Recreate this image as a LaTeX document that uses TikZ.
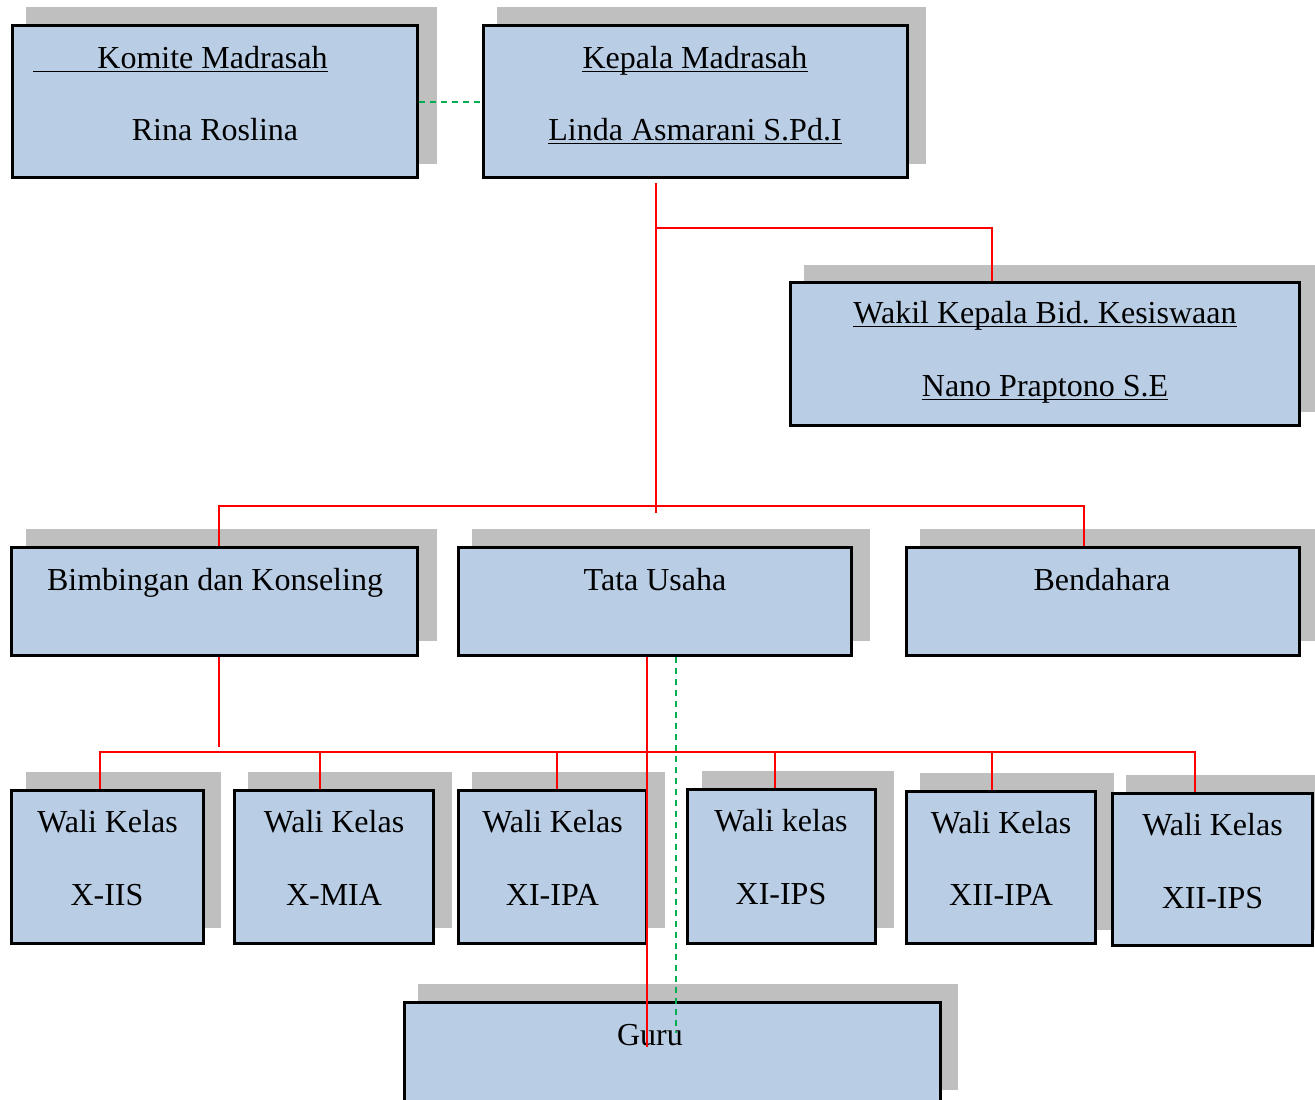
\documentclass[tikz,border=0pt]{standalone}
\usepackage{fontspec}
\setmainfont{Liberation Serif}
\frenchspacing
\definecolor{boxfill}{RGB}{185,205,229}
\definecolor{shadowgray}{RGB}{191,191,191}
\definecolor{lnred}{RGB}{255,0,0}
\definecolor{lngreen}{RGB}{0,176,80}
\newcommand\myul[1]{\draw[line width=1.6pt] ([yshift=-3.5pt]#1.base west) -- ([yshift=-3.5pt]#1.base east);}
\begin{document}
\begin{tikzpicture}[x=1pt,y=-1pt,
  orgbox/.style={draw=black, line width=3.5pt, fill=boxfill, rectangle, inner sep=0pt},
  shadowbox/.style={fill=shadowgray},
  lbl/.style={anchor=base, inner sep=0pt, font=\fontsize{32}{38}\selectfont},
  redl/.style={draw=lnred, line width=1.6pt},
  greenl/.style={draw=lngreen, line width=2pt, dash pattern=on 6pt off 5pt}]
\useasboundingbox (0,0) rectangle (1315,1100);
\clip (0,0) rectangle (1315,1100);
\fill[white] (0,0) rectangle (1315,1100);
% shadows
\fill[shadowgray] (26,7) rectangle (437,164);
\fill[shadowgray] (497,7) rectangle (926,164);
\fill[shadowgray] (804,265) rectangle (1315,412);
\fill[shadowgray] (26,529) rectangle (437,641);
\fill[shadowgray] (472,529) rectangle (870,641);
\fill[shadowgray] (920,529) rectangle (1315,641);
\fill[shadowgray] (26,772) rectangle (221,928);
\fill[shadowgray] (248,772) rectangle (452,928);
\fill[shadowgray] (472,772) rectangle (665,928);
\fill[shadowgray] (702,771) rectangle (894,928);
\fill[shadowgray] (920,773) rectangle (1114,930);
\fill[shadowgray] (1126,775) rectangle (1315,930);
\fill[shadowgray] (418,984) rectangle (958,1090);
% boxes
\node[orgbox, minimum width=405pt, minimum height=152pt] (komite) at (215,101.5) {};
\node[orgbox, minimum width=424pt, minimum height=152pt] (kepala) at (695.5,101.5) {};
\node[orgbox, minimum width=509pt, minimum height=143pt] (wakil) at (1045,354) {};
\node[orgbox, minimum width=406pt, minimum height=108pt] (bk) at (214.5,601.5) {};
\node[orgbox, minimum width=393pt, minimum height=108pt] (tu) at (655,601.5) {};
\node[orgbox, minimum width=393pt, minimum height=108pt] (bend) at (1103,601.5) {};
\node[orgbox, minimum width=192pt, minimum height=153pt] (w1) at (107.5,867) {};
\node[orgbox, minimum width=199pt, minimum height=153pt] (w2) at (334,867) {};
\node[orgbox, minimum width=188pt, minimum height=153pt] (w3) at (552.5,867) {};
\node[orgbox, minimum width=188pt, minimum height=154pt] (w4) at (781.5,866.5) {};
\node[orgbox, minimum width=189pt, minimum height=152pt] (w5) at (1001,867.5) {};
\node[orgbox, minimum width=200pt, minimum height=152pt] (w6) at (1212.5,869.5) {};
\node[orgbox, minimum width=536pt, minimum height=111pt] (guru) at (672.5,1058) {};
% texts
\node[lbl] (t1a) at (212.5,68) {Komite Madrasah};
\coordinate (ulstart) at (33,71.5);
\draw[line width=1.6pt] (ulstart) -- ([yshift=-3.5pt]t1a.base east);
\node[lbl] (t1b) at (215,140) {Rina Roslina};
\node[lbl] (t2a) at (695,68) {Kepala Madrasah};
\node[lbl] (t2b) at (695,140) {Linda Asmarani S.Pd.I};
\myul{t2a}\myul{t2b}
\node[lbl] (t3a) at (1045,323) {Wakil Kepala Bid. Kesiswaan};
\node[lbl] (t3b) at (1045,396) {Nano Praptono S.E};
\myul{t3a}\myul{t3b}
\node[lbl] (t4) at (215,590) {Bimbingan dan Konseling};
\node[lbl] (t5) at (655,590) {Tata Usaha};
\node[lbl] (t6) at (1102,590) {Bendahara};
\node[lbl] (w1a) at (107.5,832) {Wali Kelas};
\node[lbl] (w1b) at (107,905) {X-IIS};
\node[lbl] (w2a) at (334,832) {Wali Kelas};
\node[lbl] (w2b) at (334,905) {X-MIA};
\node[lbl] (w3a) at (552.5,832) {Wali Kelas};
\node[lbl] (w3b) at (552.5,905) {XI-IPA};
\node[lbl] (w4a) at (781,831) {Wali kelas};
\node[lbl] (w4b) at (781,904) {XI-IPS};
\node[lbl] (w5a) at (1001,833) {Wali Kelas};
\node[lbl] (w5b) at (1001,905) {XII-IPA};
\node[lbl] (w6a) at (1212.5,835) {Wali Kelas};
\node[lbl] (w6b) at (1212.5,908) {XII-IPS};
\node[lbl] (tg) at (650,1045) {Guru};
% connectors
\draw[greenl] (komite.east) -- (kepala.west);
\coordinate (k0) at (656,183);
\coordinate (k1) at (656,228);
\coordinate (k2) at (656,513);
\coordinate (wk) at (992,228);
\coordinate (h1) at (219,506);
\coordinate (h2) at (1084,506);
\coordinate (bkend) at (219,747);
\draw[redl] (k0) -- (k2);
\draw[redl] (k1) -- (wk) -- (wakil.north -| wk);
\draw[redl] (bk.north -| h1) -- (h1) -- (h2) -- (bend.north -| h2);
\draw[redl] (bk.south -| h1) -- (bkend);
\coordinate (r1) at (100,752);
\coordinate (r2) at (320,752);
\coordinate (r3) at (557,752);
\coordinate (r4) at (775,752);
\coordinate (r5) at (992,752);
\coordinate (r6) at (1195,752);
\draw[redl] (w1.north -| r1) -- (r1) -- (r6) -- (w6.north -| r6);
\draw[redl] (r2) -- (w2.north -| r2);
\draw[redl] (r3) -- (w3.north -| r3);
\draw[redl] (r4) -- (w4.north -| r4);
\draw[redl] (r5) -- (w5.north -| r5);
\coordinate (tr) at (647,1047);
\coordinate (tg2) at (676,1033);
\draw[redl] (tu.south -| tr) -- (tr);
\draw[greenl] (tu.south -| tg2) -- (tg2);
\end{tikzpicture}
\end{document}
